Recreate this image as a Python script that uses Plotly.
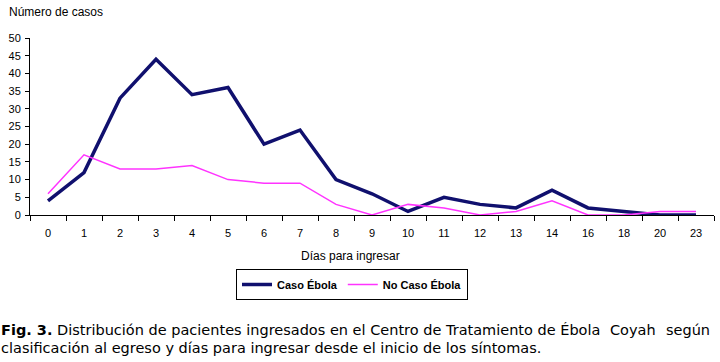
import plotly.graph_objects as go

dias = ["0", "1", "2", "3", "4", "5", "6", "7", "8", "9", "10", "11", "12", "13", "14", "16", "18", "20", "23"]
caso_ebola = [4, 12, 33, 44, 34, 36, 20, 24, 10, 6, 1, 5, 3, 2, 7, 2, 1, 0, 0]
no_caso_ebola = [6, 17, 13, 13, 14, 10, 9, 9, 3, 0, 3, 2, 0, 1, 4, 0, 0, 1, 1]
y_ticks = [0, 5, 10, 15, 20, 25, 30, 35, 40, 45, 50]

W, H = 720, 362
L, R, T, B = 30, 6, 38, 147
pw = W - L - R
ph = H - T - B

def px(x):
    return (x - L) / pw

def py(y):
    return (H - B - y) / ph

fig = go.Figure()
fig.add_trace(go.Scatter(x=dias, y=caso_ebola, mode="lines", name="Caso Ébola",
                         line=dict(color="#10106e", width=3.5)))
fig.add_trace(go.Scatter(x=dias, y=no_caso_ebola, mode="lines", name="No Caso Ébola",
                         line=dict(color="#ff33ff", width=1.5)))

axis_font = dict(family="Liberation Sans, Arial", size=11, color="#000000")

fig.update_layout(
    width=W, height=H,
    margin=dict(l=L, r=R, t=T, b=B, pad=0),
    paper_bgcolor="white", plot_bgcolor="white",
    showlegend=True,
    legend=dict(orientation="h", x=px(236), y=py(269), xanchor="left", yanchor="top",
                bordercolor="#000000", borderwidth=1, bgcolor="white",
                font=dict(family="Liberation Sans, Arial", size=11, color="#000000", weight="bold"),
                itemwidth=30, tracegroupgap=0),
    xaxis=dict(type="category", tickson="boundaries", ticks="outside", ticklen=5,
               tickcolor="#000000", showline=True, linecolor="#000000", linewidth=1,
               showgrid=False, zeroline=False, tickfont=axis_font, ticklabelstandoff=8,
               range=[-0.5, len(dias) - 0.5]),
    yaxis=dict(range=[0, 50], tickvals=y_ticks, ticks="outside", ticklen=4,
               tickcolor="#000000", showline=True, linecolor="#000000", linewidth=1,
               showgrid=False, zeroline=False, tickfont=axis_font, ticklabelstandoff=2),
)

fig.add_annotation(text="Número de casos", xref="paper", yref="paper",
                   x=px(7), y=py(12), xanchor="left", yanchor="middle", showarrow=False,
                   font=dict(family="Liberation Sans, Arial", size=12, color="#000000"))
fig.add_annotation(text="Días para ingresar", xref="paper", yref="paper",
                   x=px(350), y=py(256), xanchor="center", yanchor="middle", showarrow=False,
                   font=dict(family="Liberation Sans, Arial", size=12, color="#000000"))

cap_font = dict(family="DejaVu Sans", size=14.5, color="#000000")
cap_parts = [
    ("<b>Fig. 3.</b> Distribución de pacientes ingresados en el Centro de Tratamiento de Ébola", 0, 330, "left"),
    ("Coyah", 609, 330, "left"),
    ("según", 711, 330, "right"),
    ("clasificación al egreso y días para ingresar desde el inicio de los síntomas.", 0, 348, "left"),
]
for txt, xx, yy, anc in cap_parts:
    fig.add_annotation(text=txt, xref="paper", yref="paper", x=px(xx), y=py(yy),
                       xanchor=anc, yanchor="middle", align="left", showarrow=False,
                       borderpad=0, font=cap_font)

fig.write_html("out.html", config={"displayModeBar": False},
               post_script="document.body.style.margin='0';document.body.style.overflow='hidden';")
